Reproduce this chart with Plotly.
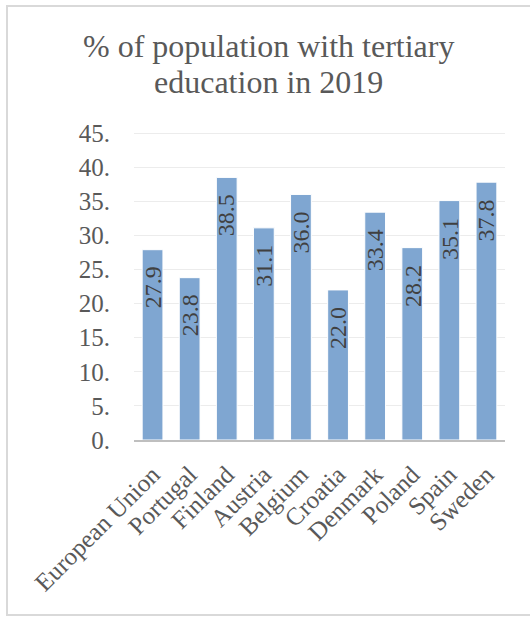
import plotly.graph_objects as go

# Share of population with tertiary education, 2019
countries = ["European Union", "Portugal", "Finland", "Austria", "Belgium",
             "Croatia", "Denmark", "Poland", "Spain", "Sweden"]
shares = [27.9, 23.8, 38.5, 31.1, 36.0, 22.0, 33.4, 28.2, 35.1, 37.8]

y_ticks = [0, 5, 10, 15, 20, 25, 30, 35, 40, 45]
y_tick_text = [f"{v}." for v in y_ticks]

title_lines = ["% of population with tertiary", "education in 2019"]

W, H = 530, 617
M_L, M_R, M_T, M_B = 134, 25, 131, 177
plot_w = W - M_L - M_R
plot_h = H - M_T - M_B

SERIF = "Liberation Serif"
GREY = "#595959"


def px_to_paper_x(px):
    return (px - M_L) / plot_w


def px_to_paper_y(py):
    return (H - M_B - py) / plot_h


fig = go.Figure(
    go.Bar(
        x=countries,
        y=shares,
        marker=dict(color="#7FA6D1", line=dict(color="white", width=1)),
        width=0.56,
        hoverinfo="x+y",
    )
)

# value labels, rotated, just inside the top of each bar
for c, v in zip(countries, shares):
    fig.add_annotation(
        x=c, y=v, xref="x", yref="y",
        text=f"{v:.1f}", textangle=-90,
        showarrow=False, xanchor="center", yanchor="top", yshift=-15,
        font=dict(family=SERIF, size=24, color="#404040"),
    )

# two-line chart title
for line, py in zip(title_lines, [46, 82]):
    fig.add_annotation(
        x=px_to_paper_x(268), y=px_to_paper_y(py), xref="paper", yref="paper",
        text=line, showarrow=False, xanchor="center", yanchor="middle",
        font=dict(family=SERIF, size=32, color=GREY),
    )

# light frame around the chart
fig.add_shape(
    type="rect", xref="paper", yref="paper",
    x0=px_to_paper_x(7), x1=px_to_paper_x(540),
    y0=px_to_paper_y(615), y1=px_to_paper_y(6),
    line=dict(color="#D9D9D9", width=2), fillcolor="rgba(0,0,0,0)",
    layer="below",
)

fig.update_layout(
    width=W, height=H,
    margin=dict(l=M_L, r=M_R, t=M_T, b=M_B, pad=0),
    paper_bgcolor="white", plot_bgcolor="white",
    showlegend=False,
    bargap=0.44,
    font=dict(family=SERIF, color=GREY),
)
fig.update_xaxes(
    tickangle=-45,
    tickfont=dict(family=SERIF, size=25, color=GREY),
    showline=True, linecolor="#BFBFBF", linewidth=2,
    showgrid=False,
    ticks="outside", ticklen=8, tickcolor="rgba(0,0,0,0)",
    fixedrange=True,
)
fig.update_yaxes(
    range=[0, 45.3],
    tickvals=y_ticks, ticktext=y_tick_text,
    tickfont=dict(family=SERIF, size=25, color=GREY),
    showgrid=True, gridcolor="#ECECEC", gridwidth=1,
    zeroline=False, showline=False,
    ticks="outside", ticklen=18, tickcolor="rgba(0,0,0,0)",
    fixedrange=True,
)

fig.write_html("out.html")
